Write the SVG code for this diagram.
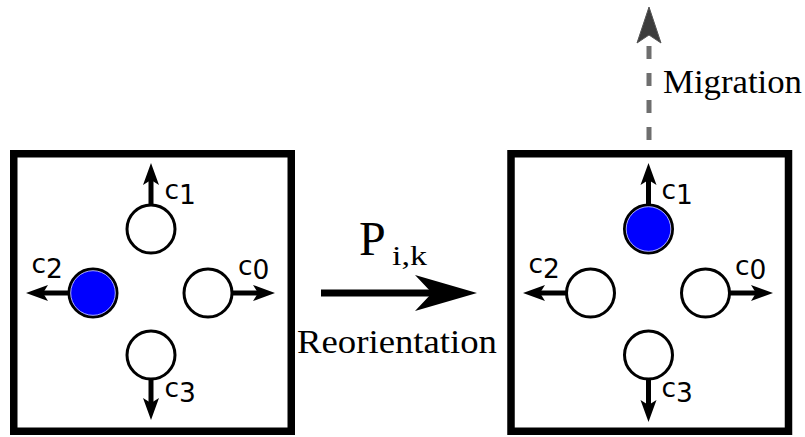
<svg xmlns="http://www.w3.org/2000/svg" width="805" height="437" viewBox="0 0 805 437">
<style>
.box{fill:#fff;stroke:#000;stroke-width:7.5}
.cell{fill:#fff;stroke:#000;stroke-width:3}
.occ{fill:#0000ff;stroke:#000;stroke-width:3}
.ring{fill:none;stroke:#d8d8ff;stroke-width:0.8}
.dir{stroke:#000;stroke-width:5;fill:none;marker-end:url(#head)}
.lbl{font-family:"DejaVu Sans",sans-serif;font-size:26.5px;fill:#000}
.serif{font-family:"Liberation Serif","Times New Roman",serif;fill:#000}
</style>
<defs>
<marker id="head" markerUnits="userSpaceOnUse" markerWidth="22" markerHeight="16" refX="5" refY="8" orient="auto" overflow="visible">
<path d="M0,0 L22,8 L0,16 L5,8 Z" fill="#000"/>
</marker>
</defs>
<rect width="805" height="437" fill="#fff"/>

<g id="left-box">
<rect class="box" x="13.75" y="153.75" width="277.5" height="277.5"/>
<circle class="cell" cx="151" cy="229" r="24"/>
<circle class="occ" cx="93" cy="293" r="24"/>
<circle class="ring" cx="93" cy="293" r="22.3"/>
<circle class="cell" cx="208" cy="293" r="24"/>
<circle class="cell" cx="151" cy="355" r="24"/>
<line class="dir" x1="151" y1="205" x2="151" y2="180"/>
<line class="dir" x1="69" y1="293" x2="43" y2="293"/>
<line class="dir" x1="232" y1="293" x2="258" y2="293"/>
<line class="dir" x1="151" y1="379" x2="151" y2="403"/>
<text class="lbl" x="164.5" y="199">c<tspan dy="5">1</tspan></text>
<text class="lbl" x="31.5" y="273">c<tspan dy="5">2</tspan></text>
<text class="lbl" x="238" y="275">c<tspan dy="4">0</tspan></text>
<text class="lbl" x="164.5" y="397">c<tspan dy="5">3</tspan></text>
</g>

<g id="right-box">
<rect class="box" x="511" y="153.75" width="277.5" height="277.5"/>
<circle class="occ" cx="648.5" cy="229" r="24"/>
<circle class="ring" cx="648.5" cy="229" r="22.3"/>
<circle class="cell" cx="590.5" cy="293" r="24"/>
<circle class="cell" cx="705.5" cy="293" r="24"/>
<circle class="cell" cx="648.5" cy="355" r="24"/>
<line class="dir" x1="648.5" y1="205" x2="648.5" y2="180"/>
<line class="dir" x1="566.5" y1="293" x2="540" y2="293"/>
<line class="dir" x1="729.5" y1="293" x2="756" y2="293"/>
<line class="dir" x1="648.5" y1="379" x2="648.5" y2="405"/>
<text class="lbl" x="661.5" y="199">c<tspan dy="5">1</tspan></text>
<text class="lbl" x="528.5" y="273">c<tspan dy="5">2</tspan></text>
<text class="lbl" x="735" y="275">c<tspan dy="4">0</tspan></text>
<text class="lbl" x="661.5" y="397">c<tspan dy="5">3</tspan></text>
</g>

<g id="connectors">
<g id="reorientation">
<line x1="321" y1="293" x2="433" y2="293" stroke="#000" stroke-width="7"/>
<path d="M477,293 L415,275 L432,293 L415,311 Z" fill="#000"/>
<text class="serif" x="359" y="255" font-size="48">P</text>
<text class="serif" x="392" y="265" font-size="27" textLength="35" lengthAdjust="spacingAndGlyphs">i,k</text>
<text class="serif" x="297" y="353" font-size="34" textLength="200" lengthAdjust="spacingAndGlyphs">Reorientation</text>
</g>
<g id="migration">
<line x1="649" y1="140" x2="649" y2="44" stroke="#6e6e6e" stroke-width="5" stroke-dasharray="13 14"/>
<path d="M649,7 L661,43 L649,35 L637,43 Z" fill="#3c3c3c" stroke="#555" stroke-width="1"/>
<text class="serif" x="663" y="93" font-size="34" textLength="139" lengthAdjust="spacingAndGlyphs">Migration</text>
</g>
</g>
</svg>
